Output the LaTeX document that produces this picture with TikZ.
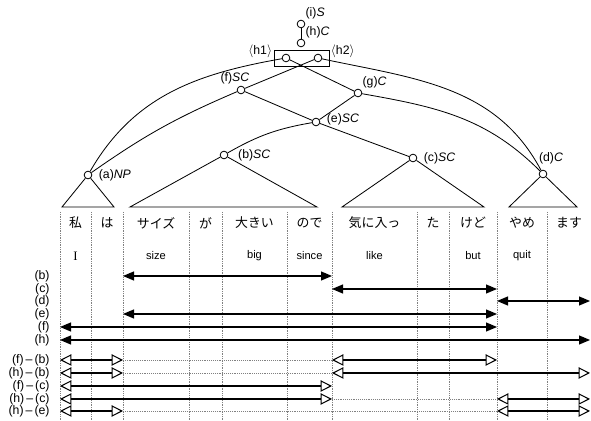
\documentclass[tikz,border=0pt]{standalone}
\usepackage{fontspec}
\setmainfont{Liberation Sans}
\newfontfamily\jpfont{Noto Sans CJK JP}
\newfontfamily\serfont{Liberation Serif}
\usetikzlibrary{arrows.meta,positioning}

\begin{document}
\begin{tikzpicture}[
    x=0.3mm, y=0.3mm, line width=0.7pt,
    nd/.style={draw, circle, fill=white, inner sep=0pt, minimum size=2.3mm},
    lbl/.style={font=\fontsize{10.5}{12}\selectfont, inner sep=1pt},
    word/.style={font=\jpfont\fontsize{11}{13}\selectfont},
    gloss/.style={font=\fontsize{9.5}{11}\selectfont},
    rowlbl/.style={anchor=east, font=\fontsize{10.5}{12}\selectfont, inner sep=0pt},
    span/.style={{Triangle[length=3.3mm,width=2.7mm]}-{Triangle[length=3.3mm,width=2.7mm]}, line width=1pt},
    cmp/.style={{Triangle[open,length=3.4mm,width=3.4mm]}-{Triangle[open,length=3.4mm,width=3.4mm]}, line width=0.9pt},
    gap/.style={densely dotted, gray, line width=0.6pt},
    sep/.style={densely dotted, gray, line width=0.5pt}
]
\useasboundingbox (0,0) rectangle (591,421);

% tree
\node[nd] (i) at (301,397) {};
\node[nd] (h) at (301,378) {};
\node[draw, minimum width=16.5mm, minimum height=4.8mm, inner sep=0pt] (hbox) at (301.5,363) {};
\node[nd] (h1) at (286,363) {};
\node[nd] (h2) at (318,363) {};
\node[nd] (f) at (241,331) {};
\node[nd] (g) at (358,328) {};
\node[nd] (e) at (316,299) {};
\node[nd] (b) at (224,266) {};
\node[nd] (c) at (413,263) {};
\node[nd] (a) at (88,246) {};
\node[nd] (d) at (543,247) {};

\node[lbl, above right=0pt of i] (ilbl) {(i)\textit{S}};
\node[lbl, above right=0pt of h] (hlbl) {(h)\textit{C}};
\node[lbl, anchor=east] (h1lbl) at ([yshift=-0.6mm]hbox.north west) {$\langle$h1$\rangle$};
\node[lbl, anchor=west] (h2lbl) at ([yshift=-0.6mm]hbox.north east) {$\langle$h2$\rangle$};
\node[lbl, above=0pt of f, xshift=-1.8mm] (flbl) {(f)\textit{SC}};
\node[lbl, above right=0pt of g] (glbl) {(g)\textit{C}};
\node[lbl, right=1.5mm of e, yshift=0.9mm] (elbl) {(e)\textit{SC}};
\node[lbl, right=1.5mm of c] (clbl) {(c)\textit{SC}};
\node[lbl, right=2.5mm of b] (blbl) {(b)\textit{SC}};
\node[lbl, right=1.5mm of a] (albl) {(a)\textit{NP}};
\node[lbl, above=1.2mm of d, xshift=2.4mm] (dlbl) {(d)\textit{C}};

\draw (i) -- (h);
\draw (a) to[out=60, in=190] (h1);
\draw (h2) to[out=-12, in=118] (d);
\draw (a) to[bend left=6] (f);
\draw (f) -- (h2);
\draw (h1) -- (g);
\draw (f) -- (e);
\draw (g) -- (e);
\draw (g) to[out=-10, in=135] (d);
\draw (b) to[bend left=10] (e);
\draw (e) -- (c);

\foreach \n/\l/\r in {a/62/114, b/130/317, c/342/484, d/509/577}
    \draw (\n) -- (\l,214) -- (\r,214) -- (\n);

% columns
\foreach \x [count=\k from 0] in {60,91,123,189,222,287,332,417,449,497,547,590}
    \coordinate (c\k) at (\x,209);
\foreach \k in {0,...,10}
    \draw[sep] (c\k) -- ++(0,-209);

\foreach \w/\x [count=\k] in {私/75.5, は/107, サイズ/156, が/205.5, 大きい/254.5, ので/309.5,
        気に入っ/374.5, た/433, けど/473, やめ/522, ます/569}
    \node[word] (w\k) at (\x,198) {\w};
\foreach \t/\x [count=\k] in {{\serfont\fontsize{11}{13}\selectfont I}/75.5, size/156, big/254.5, since/309.5,
        like/374.5, but/473, quit/522}
    \node[gloss] (gl\k) at (\x,165) {\t};

% spans
\foreach \r/\y in {b/145, c/132, d/120, e/107, f/94, h/81}
    \node[rowlbl] (l\r) at (50,\y) {(\r)};
\foreach \r/\s/\e in {b/2/6, c/6/9, d/9/11, e/2/9, f/0/9, h/0/11}
    \draw[span] (c\s |- l\r) -- (c\e |- l\r);

% comparisons
\foreach \r/\y/\t in {fb/61/(f)\,\textendash\,(b), hb/48/(h)\,\textendash\,(b),
        fc/35/(f)\,\textendash\,(c), hc/22/(h)\,\textendash\,(c), he/10/(h)\,\textendash\,(e)}
    \node[rowlbl] (l\r) at (50,\y) {\t};
\foreach \r/\s/\e in {fb/0/2, fb/6/9, hb/0/2, hb/6/11, fc/0/6, hc/0/6, hc/9/11, he/0/2, he/9/11}
    \draw[cmp] (c\s |- l\r) -- (c\e |- l\r);
\foreach \r/\s/\e in {fb/2/6, hb/2/6, hc/6/9, he/2/9}
    \draw[gap] (c\s |- l\r) -- (c\e |- l\r);

\end{tikzpicture}
\end{document}
